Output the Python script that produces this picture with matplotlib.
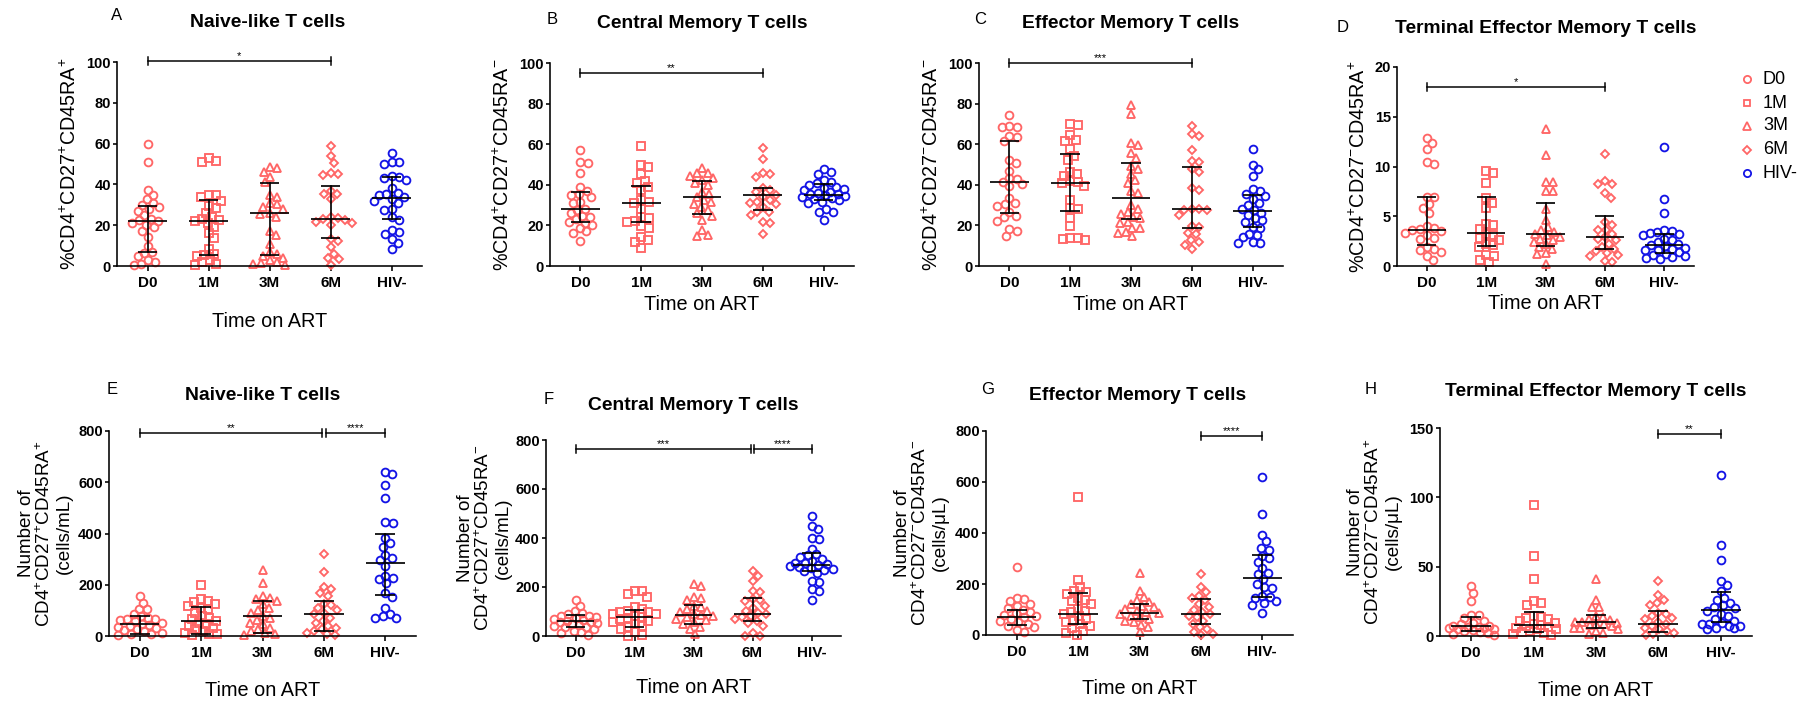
import numpy as np
import matplotlib
matplotlib.use('Agg')
import matplotlib.pyplot as plt

plt.rcParams['font.family'] = ['Liberation Sans', 'DejaVu Sans']
plt.rcParams['mathtext.fontset'] = 'custom'
plt.rcParams['mathtext.rm'] = 'Liberation Sans'
plt.rcParams['mathtext.it'] = 'Liberation Sans:italic'
plt.rcParams['mathtext.bf'] = 'Liberation Sans:bold'

W, H, DPI = 1807, 702, 100

groups = ['D0', '1M', '3M', '6M', 'HIV-']
group_markers = ['o', 's', '^', 'D', 'o']
RED = '#FF6666'
BLUE = '#1414E6'
group_colors = [RED, RED, RED, RED, BLUE]

# ---------------- data ----------------
naive_pct = [
    [60, 51, 37.5, 35, 33, 31, 30, 29, 28, 27, 25, 23, 22.5, 22, 21, 20, 19, 17, 14, 10, 7, 6.5, 5, 3, 2, 1, 0.5],
    [52.7, 51.5, 51, 35, 34.7, 34, 32, 29.5, 28.5, 26, 24, 23, 22.5, 22, 21, 19, 16, 13.5, 8.5, 6, 5.5, 5, 3, 2, 1, 0.5],
    [48.5, 48, 46, 43.7, 41, 35, 34, 31, 30.3, 29, 28, 26, 25.7, 24, 17, 15, 11, 7, 6, 5, 4, 3, 2, 1.5, 1, 0.5],
    [59, 54, 50.7, 45.7, 45.3, 44.5, 37, 35.5, 35.2, 33, 24, 23.5, 23, 22.4, 21.6, 21, 20, 13, 12.5, 9.3, 6, 4, 3.3, 0.3],
    [55.5, 51, 50.8, 50, 44, 43.7, 43.2, 42, 38, 36, 35.5, 34.7, 34, 33, 32, 31, 28, 27.6, 24, 22.7, 17.5, 16.5, 15.5, 13.4, 11.5, 8.5],
]
naive_pct_med = [22, 22, 26, 23, 33.5]
naive_pct_q1 = [7, 5.5, 5.5, 13.5, 23]
naive_pct_q3 = [29.5, 32.5, 40.6, 39, 43.5]

cm_pct = [
    [57, 51, 50.6, 46, 39, 37, 35.4, 35, 34, 31.3, 30.8, 28.3, 27.5, 25.9, 24.7, 24, 23, 21.7, 21.2, 20, 18.5, 17, 16.4, 12.2],
    [59, 49.7, 48.6, 45.3, 42, 41, 38.7, 37.4, 32.4, 31.6, 30.8, 28.3, 24.2, 23.4, 22.2, 21.7, 19.6, 18.8, 14.3, 12.7, 12, 9],
    [48.4, 46, 45.6, 44.5, 43.5, 42.3, 40.7, 40, 36.6, 35.7, 34, 32.5, 31.6, 30.5, 29, 27.5, 25.9, 24.5, 22.6, 17.6, 15.2, 14.8],
    [58.3, 52.5, 46, 45.3, 44, 38.2, 37.4, 36.6, 35, 34, 32.5, 31.6, 31, 30.5, 29, 26.7, 26.4, 25, 21.7, 21, 16],
    [47.6, 46.5, 45.3, 42.3, 41.5, 40.7, 40, 39, 38.2, 37.8, 37.4, 36.6, 36, 35.7, 35.5, 35, 34.5, 34, 33.6, 33, 32.4, 31.5, 30.8, 28.3, 26.7, 26.4, 22.6],
]
cm_pct_med = [28, 31, 34, 35, 35]
cm_pct_q1 = [21.5, 21.5, 25.5, 27.5, 32.5]
cm_pct_q3 = [36.5, 39.5, 42, 38.5, 40.5]

em_pct = [
    [74.5, 69, 68.6, 68.4, 64, 63.4, 61.6, 52, 50.6, 47, 43.2, 42.8, 41.5, 40.3, 39.4, 33.3, 31.1, 30.5, 29.7, 26.5, 24.5, 24, 22.2, 18, 17.3, 14.8],
    [70, 69.7, 64.6, 62.1, 61.8, 57.7, 54.4, 52, 46.5, 45.3, 44.3, 42, 41.5, 40.7, 39.4, 32.5, 28.8, 28, 23.7, 19.8, 13.8, 13.7, 13.2, 12.7],
    [79.4, 75, 60.8, 59.6, 55.8, 53, 49.4, 48, 45.3, 42.3, 41, 36.9, 36, 30, 28.3, 26.7, 25.5, 24.2, 23.4, 21.7, 21, 18.8, 18.5, 16.8, 16.5, 14.7],
    [69, 65, 64, 57.3, 51.7, 51.4, 48, 46.5, 38.2, 37.4, 28.3, 28, 27.8, 27.5, 25, 19.6, 19.3, 16.3, 15.7, 12.7, 11.9, 10.5, 8.6],
    [57.8, 50, 47.6, 44.5, 37.7, 37, 35.7, 34.4, 33, 30.8, 30, 28.3, 27.5, 26.2, 25, 23.4, 22.6, 21.7, 19.3, 18.8, 16, 15.2, 14.3, 11.9, 11.5, 11.5],
]
em_pct_med = [41.5, 41, 33.5, 28, 27]
em_pct_q1 = [26, 27, 23, 18.5, 19]
em_pct_q3 = [61.5, 55, 50.5, 49, 35]

tem_pct = [
    [12.9, 12.4, 11.8, 10.5, 10.3, 6.9, 6.9, 6.2, 5.8, 5.3, 4.0, 3.8, 3.75, 3.6, 3.5, 3.3, 3.1, 2.85, 2.75, 1.9, 1.75, 1.6, 1.4, 1.0, 0.6],
    [9.5, 9.3, 8.3, 6.8, 6.3, 5.8, 4.25, 4.1, 3.75, 3.25, 3.1, 2.85, 2.6, 2.25, 2.1, 1.9, 1.1, 1.0, 0.65, 0.4],
    [13.8, 11.2, 8.45, 8.45, 7.5, 7.5, 5.75, 4.6, 3.9, 3.6, 3.4, 3.25, 3.1, 2.9, 2.75, 2.6, 2.4, 2.25, 1.9, 1.75, 1.3, 1.2, 0.25],
    [11.3, 8.5, 8.2, 8.2, 7.3, 6.8, 4.4, 4.1, 3.65, 3.6, 3.25, 2.9, 2.75, 2.6, 2.25, 1.9, 1.75, 1.5, 1.35, 1.1, 1.0, 0.5, 0.4],
    [12, 6.7, 5.3, 3.6, 3.5, 3.45, 3.35, 3.25, 3.1, 2.75, 2.6, 2.4, 2.25, 2.1, 2.0, 1.85, 1.75, 1.65, 1.6, 1.4, 1.25, 1.1, 1.0, 0.9, 0.85, 0.75],
]
tem_pct_med = [3.6, 3.3, 3.2, 2.9, 2.1]
tem_pct_q1 = [2.1, 2.0, 2.0, 1.7, 1.3]
tem_pct_q3 = [6.9, 6.9, 6.3, 5.0, 3.2]

naive_num = [
    [156, 130, 107, 104, 85, 78, 72, 68, 65, 61, 59, 52, 48, 43, 39, 35, 30, 26, 22, 20, 13, 9, 6, 4],
    [198, 143, 137, 134, 126, 117, 110, 104, 91, 78, 72, 65, 59, 52, 46, 39, 33, 26, 20, 13, 9, 6, 3],
    [256, 205, 156, 150, 143, 137, 124, 110, 100, 91, 78, 72, 61, 52, 46, 33, 26, 20, 13, 9, 4],
    [319, 250, 192, 182, 166, 156, 126, 121, 110, 100, 91, 85, 72, 59, 52, 39, 33, 26, 20, 13, 6, 3],
    [640, 631, 589, 537, 446, 440, 384, 361, 348, 316, 303, 296, 273, 234, 228, 221, 205, 166, 152, 110, 87, 78, 72, 72],
]
naive_num_med = [45, 59, 78, 85, 285]
naive_num_q1 = [7, 7, 10, 18, 160]
naive_num_q3 = [77, 115, 137, 138, 398]

cm_num = [
    [147, 124, 103, 94, 90, 83, 80, 76, 72, 69, 65, 62, 58, 56, 52, 49, 45, 42, 38, 35, 30, 22, 15, 11, 5],
    [185, 182, 171, 160, 117, 110, 103, 100, 96, 90, 88, 83, 76, 72, 69, 62, 56, 50, 42, 35, 29, 15, 5, 1],
    [212, 205, 160, 155, 147, 124, 118, 110, 103, 96, 90, 86, 83, 76, 70, 65, 56, 49, 38, 29, 8],
    [264, 245, 226, 182, 178, 151, 147, 144, 124, 114, 103, 95, 90, 83, 76, 70, 62, 55, 42, 11, 1, 1],
    [490, 451, 436, 398, 395, 357, 334, 331, 321, 314, 307, 300, 296, 292, 289, 285, 283, 277, 273, 270, 266, 257, 223, 219, 192, 182, 148],
]
cm_num_med = [60, 76, 86, 90, 290]
cm_num_q1 = [38, 38, 50, 60, 265]
cm_num_q3 = [84, 106, 128, 155, 338]

em_num = [
    [268, 147, 141, 134, 121, 115, 106, 98, 91, 85, 80, 73, 69, 63, 56, 50, 43, 37, 30, 21, 10],
    [542, 215, 187, 174, 167, 161, 147, 137, 132, 121, 102, 95, 89, 82, 73, 63, 56, 50, 43, 37, 27, 17, 7, 0],
    [245, 174, 150, 137, 128, 121, 115, 108, 102, 95, 91, 86, 82, 76, 69, 63, 56, 50, 40, 30, 10],
    [239, 189, 167, 154, 147, 137, 121, 111, 98, 91, 82, 76, 69, 56, 43, 30, 24, 10, 4, 1],
    [620, 474, 393, 367, 343, 333, 311, 302, 287, 262, 245, 239, 219, 200, 189, 184, 154, 150, 145, 134, 125, 119, 86],
]
em_num_med = [72, 82, 87, 83, 222]
em_num_q1 = [40, 43, 63, 45, 150]
em_num_q3 = [100, 163, 122, 142, 315]

tem_num = [
    [36, 30.7, 25.2, 14.9, 14.9, 13.2, 10.8, 9.6, 8.4, 7.5, 7.2, 6.8, 6.5, 6, 5.5, 5, 4.8, 4.2, 3.6, 3, 2.4, 1.2, 0.7],
    [94.8, 57.6, 41.3, 25.2, 24, 22.3, 14.4, 13.7, 13.2, 12, 10.8, 9.6, 8.4, 8, 7.2, 6.5, 6, 5, 4.8, 3.6, 3, 2.4, 1.2, 0.5],
    [40.8, 25.7, 20.9, 20.9, 14.4, 13.7, 12.5, 11.3, 10.3, 10, 9.6, 9, 8.4, 7.8, 7.2, 6, 5.5, 4.8, 3.6, 2.4, 1.2],
    [40, 29.3, 25.7, 23.5, 22.3, 16.8, 15.6, 14.4, 13.2, 12, 10.3, 8.9, 7.2, 6, 4.8, 3.6, 2.4, 1.2, 0.5],
    [116.4, 65.5, 54.7, 39.6, 36.5, 32.4, 27.6, 25.7, 24, 22, 20.9, 19.9, 18, 15.6, 14.4, 12, 10.8, 9.6, 9, 8.4, 7.5, 7.2, 6, 5.5, 4.8],
]
tem_num_med = [7, 8, 10, 8.5, 19]
tem_num_q1 = [3.5, 3, 5.5, 3, 10]
tem_num_q3 = [13.5, 17, 15.5, 18, 32]

# significance comparisons: (from group, to group, label)
sig_A = [(0, 3, '*')]
sig_B = [(0, 3, '**')]
sig_C = [(0, 3, '***')]
sig_D = [(0, 3, '*')]
sig_E = [(0, 3, '**'), (3, 4, '****')]
sig_F = [(0, 3, '***'), (3, 4, '****')]
sig_G = [(3, 4, '****')]
sig_H = [(3, 4, '**')]

lab_pct_pp = r'%CD4$^{+}$CD27$^{+}$CD45RA$^{+}$'
lab_pct_pm = r'%CD4$^{+}$CD27$^{+}$CD45RA$^{-}$'
lab_pct_mm = r'%CD4$^{+}$CD27$^{-}$CD45RA$^{-}$'
lab_pct_mp = r'%CD4$^{+}$CD27$^{-}$CD45RA$^{+}$'
lab_num_pp = 'Number of\n' + r'CD4$^{+}$CD27$^{+}$CD45RA$^{+}$' + '\n(cells/mL)'
lab_num_pm = 'Number of\n' + r'CD4$^{+}$CD27$^{+}$CD45RA$^{-}$' + '\n(cells/mL)'
lab_num_mm = 'Number of\n' + r'CD4$^{+}$CD27$^{-}$CD45RA$^{-}$' + '\n(cells/\u03bcL)'
lab_num_mp = 'Number of\n' + r'CD4$^{+}$CD27$^{-}$CD45RA$^{+}$' + '\n(cells/\u03bcL)'

# ---------------- layout (pixels) ----------------
panels = [
    dict(letter='A', title='Naive-like T cells', vals=naive_pct, med=naive_pct_med, q1=naive_pct_q1, q3=naive_pct_q3,
         box=(117, 62, 422, 266), ymax=100, step=20, ylabel=lab_pct_pp, ylx=70, lxy=(117, 15), ttl=(268, 27),
         xly=327, sig=sig_A, sigy=[100.5]),
    dict(letter='B', title='Central Memory T cells', vals=cm_pct, med=cm_pct_med, q1=cm_pct_q1, q3=cm_pct_q3,
         box=(550, 63, 854, 266), ymax=100, step=20, ylabel=lab_pct_pm, ylx=503, lxy=(552, 19), ttl=(702, 28),
         xly=310, sig=sig_B, sigy=[95]),
    dict(letter='C', title='Effector Memory T cells', vals=em_pct, med=em_pct_med, q1=em_pct_q1, q3=em_pct_q3,
         box=(979, 63, 1283, 266), ymax=100, step=20, ylabel=lab_pct_mm, ylx=932, lxy=(980, 20), ttl=(1131, 28),
         xly=310, sig=sig_C, sigy=[100]),
    dict(letter='D', title='Terminal Effector Memory T cells', vals=tem_pct, med=tem_pct_med, q1=tem_pct_q1, q3=tem_pct_q3,
         box=(1397, 67, 1694, 266), ymax=20, step=5, ylabel=lab_pct_mp, ylx=1359, lxy=(1343, 28), ttl=(1546, 33),
         xly=309, sig=sig_D, sigy=[18]),
    dict(letter='E', title='Naive-like T cells', vals=naive_num, med=naive_num_med, q1=naive_num_q1, q3=naive_num_q3,
         box=(109, 431, 416, 636), ymax=800, step=200, ylabel=lab_num_pp, ylx=45, lxy=(112, 390), ttl=(263, 400),
         xly=696, sig=sig_E, sigy=[793, 793]),
    dict(letter='F', title='Central Memory T cells', vals=cm_num, med=cm_num_med, q1=cm_num_q1, q3=cm_num_q3,
         box=(546, 440, 841, 636), ymax=800, step=200, ylabel=lab_num_pm, ylx=484, lxy=(549, 400), ttl=(693, 410),
         xly=693, sig=sig_F, sigy=[763, 763]),
    dict(letter='G', title='Effector Memory T cells', vals=em_num, med=em_num_med, q1=em_num_q1, q3=em_num_q3,
         box=(986, 431, 1293, 635), ymax=800, step=200, ylabel=lab_num_mm, ylx=921, lxy=(988, 390), ttl=(1138, 400),
         xly=694, sig=sig_G, sigy=[782]),
    dict(letter='H', title='Terminal Effector Memory T cells', vals=tem_num, med=tem_num_med, q1=tem_num_q1, q3=tem_num_q3,
         box=(1440, 428, 1752, 636), ymax=150, step=50, ylabel=lab_num_mp, ylx=1374, lxy=(1371, 389), ttl=(1596, 396),
         xly=696, sig=sig_H, sigy=[145.7]),
]

PT = 72.0 / DPI  # points per pixel


def fx(x):
    return x / W


def fy(y):
    return 1 - y / H


def swarm(ypx, d, limit):
    """Deterministic beeswarm layout in pixel space, capped at +-limit."""
    order = np.argsort(-np.asarray(ypx))
    placed = []
    xs = np.zeros(len(ypx))
    for i in order:
        y = ypx[i]
        cands = [0.0]
        for (px_, py_) in placed:
            dy = y - py_
            if abs(dy) < d:
                dx = np.sqrt(d * d - dy * dy)
                cands += [px_ + dx, px_ - dx]
        cands = [c for c in cands if abs(c) <= limit]
        cands += list(np.linspace(-limit, limit, 15))
        cands = sorted(cands, key=lambda c: (abs(c), -c))
        chosen = None
        for c in cands:
            if all((c - a) ** 2 + (y - b) ** 2 >= d * d - 1e-6 for a, b in placed):
                chosen = c
                break
        if chosen is None:
            best = -1
            for c in cands:
                md = min(np.hypot(c - a, y - b) for a, b in placed)
                if md > best + 1e-9:
                    best, chosen = md, c
        xs[i] = chosen
        placed.append((chosen, y))
    return xs


fig = plt.figure(figsize=(W / DPI, H / DPI), dpi=DPI)

for p in panels:
    l, t, r, b = p['box']
    ax = fig.add_axes([fx(l), fy(b), (r - l) / W, (b - t) / H])
    ymax = p['ymax']
    ax.set_xlim(-0.5, 4.5)
    ax.set_ylim(0, ymax)
    hpx = b - t
    wpx_per_cat = (r - l) / 5.0
    for k in ('top', 'right'):
        ax.spines[k].set_visible(False)
    for k in ('left', 'bottom'):
        ax.spines[k].set_linewidth(1.6 * PT)
    ax.set_xticks(range(5))
    ax.set_xticklabels(groups, fontsize=11, fontweight='bold')
    ticks = np.arange(0, ymax + 1e-9, p['step'])
    ax.set_yticks(ticks)
    ax.set_yticklabels([f'{v:g}' for v in ticks], fontsize=10.5, fontweight='bold')
    ax.tick_params(direction='out', length=4.5 * PT, width=1.6 * PT, pad=1.2)
    ax.tick_params(axis='x', pad=4)

    for gi, vals in enumerate(p['vals']):
        vals = np.asarray(vals, float)
        ypx = vals / ymax * hpx
        xo = swarm(ypx, 7.5, 0.36 * wpx_per_cat) / wpx_per_cat
        m = group_markers[gi]
        ms = 5.6 if m == 'o' else (5.2 if m == 's' else (5.8 if m == '^' else 4.5))
        ax.plot(gi + xo, vals, linestyle='none', marker=m, ms=ms, mfc='none',
                mec=group_colors[gi], mew=1.35, clip_on=False, zorder=2)
        med, lo, hi = p['med'][gi], p['q1'][gi], p['q3'][gi]
        lw = 1.7 * PT
        ax.plot([gi - 0.32, gi + 0.32], [med, med], color='black', lw=lw, zorder=3, solid_capstyle='butt')
        ax.plot([gi - 0.16, gi + 0.16], [lo, lo], color='black', lw=lw, zorder=3, solid_capstyle='butt')
        ax.plot([gi - 0.16, gi + 0.16], [hi, hi], color='black', lw=lw, zorder=3, solid_capstyle='butt')
        ax.plot([gi, gi], [lo, hi], color='black', lw=lw, zorder=3)

    cap = 4.0 / hpx * ymax
    multi = len(p['sig']) > 1
    for (g0, g1, lab), yv in zip(p['sig'], p['sigy']):
        x0 = g0 + (0.03 if (multi and g0 == 3) else 0.0)
        x1 = g1 - (0.03 if (multi and g1 == 3) else 0.0)
        kw = dict(color='black', lw=1.5 * PT, clip_on=False, zorder=4)
        ax.plot([x0, x1], [yv, yv], **kw)
        ax.plot([x0, x0], [yv - cap, yv + cap], **kw)
        ax.plot([x1, x1], [yv - cap, yv + cap], **kw)
        ax.text((x0 + x1) / 2, yv + 2.0 / hpx * ymax, lab, ha='center', va='baseline', fontsize=8,
                clip_on=False)

    # texts
    fig.text(fx(p['ttl'][0]), fy(p['ttl'][1]), p['title'], ha='center', va='baseline', fontsize=13.9,
             fontweight='bold')
    fig.text(fx(p['lxy'][0]), fy(p['lxy'][1]), p['letter'], ha='center', va='center', fontsize=12)
    fig.text(fx((l + r) / 2), fy(p['xly']), 'Time on ART', ha='center', va='baseline', fontsize=14.3)
    multiline = '\n' in p['ylabel']
    fig.text(fx(p['ylx']), fy((t + b) / 2), p['ylabel'], ha='center', va='center', rotation=90,
             fontsize=13.6 if multiline else 14.2, linespacing=1.08, multialignment='center')

# legend (drawn on an overlay axes in pixel coordinates)
lax = fig.add_axes([0, 0, 1, 1], facecolor='none')
lax.set_xlim(0, W)
lax.set_ylim(H, 0)
lax.axis('off')
leg_y = [79, 103, 126, 150, 173]
for gi, g in enumerate(groups):
    m = group_markers[gi]
    ms = 5.2 if m == 'o' else (4.8 if m == 's' else (5.2 if m == '^' else 4.2))
    lax.plot([1747], [leg_y[gi]], linestyle='none', marker=m, ms=ms, mfc='none', mec=group_colors[gi], mew=1.3)
    lax.text(1763, leg_y[gi], g, ha='left', va='center', fontsize=13)

fig.savefig('out.png', dpi=DPI)
